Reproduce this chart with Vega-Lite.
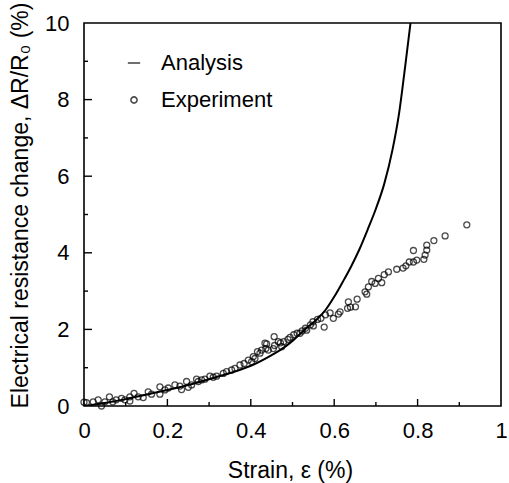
{
  "$schema": "https://vega.github.io/schema/vega-lite/v6.json",
  "width": 417,
  "height": 383,
  "autosize": {"type": "none"},
  "padding": {"left": 84, "top": 23, "right": 8, "bottom": 77},
  "background": "white",
  "config": {
    "view": {"stroke": "black", "strokeWidth": 1.6},
    "font": "Liberation Sans",
    "axis": {
      "domain": false,
      "ticks": false,
      "grid": false,
      "labelColor": "black",
      "labelFontSize": 22,
      "titleColor": "black",
      "titleFontSize": 23,
      "titleFontWeight": "normal",
      "labelFlush": false
    }
  },
  "datasets": {
    "xticks": [
      {"strain": 0.1, "kind": "minor"},
      {"strain": 0.2, "kind": "major"},
      {"strain": 0.3, "kind": "minor"},
      {"strain": 0.4, "kind": "major"},
      {"strain": 0.5, "kind": "minor"},
      {"strain": 0.6, "kind": "major"},
      {"strain": 0.7, "kind": "minor"},
      {"strain": 0.8, "kind": "major"},
      {"strain": 0.9, "kind": "minor"}
    ],
    "yticks": [
      {"dr": 1, "kind": "minor"},
      {"dr": 2, "kind": "major"},
      {"dr": 3, "kind": "minor"},
      {"dr": 4, "kind": "major"},
      {"dr": 5, "kind": "minor"},
      {"dr": 6, "kind": "major"},
      {"dr": 7, "kind": "minor"},
      {"dr": 8, "kind": "major"},
      {"dr": 9, "kind": "minor"}
    ],
    "analysis": [
      {"strain": 0, "dr": 0},
      {"strain": 0.05, "dr": 0.08},
      {"strain": 0.1, "dr": 0.18},
      {"strain": 0.15, "dr": 0.3},
      {"strain": 0.2, "dr": 0.42},
      {"strain": 0.25, "dr": 0.55},
      {"strain": 0.3, "dr": 0.7},
      {"strain": 0.35, "dr": 0.86},
      {"strain": 0.4, "dr": 1.05},
      {"strain": 0.45, "dr": 1.33},
      {"strain": 0.48, "dr": 1.53},
      {"strain": 0.5, "dr": 1.7},
      {"strain": 0.53, "dr": 2.0},
      {"strain": 0.56, "dr": 2.28},
      {"strain": 0.58, "dr": 2.52},
      {"strain": 0.6, "dr": 2.85},
      {"strain": 0.62, "dr": 3.23},
      {"strain": 0.64, "dr": 3.63},
      {"strain": 0.66, "dr": 4.08},
      {"strain": 0.68, "dr": 4.6},
      {"strain": 0.7, "dr": 5.15},
      {"strain": 0.72, "dr": 5.8},
      {"strain": 0.74, "dr": 6.7},
      {"strain": 0.755, "dr": 7.6},
      {"strain": 0.77, "dr": 8.85},
      {"strain": 0.783, "dr": 10}
    ],
    "experiment": [
      {"strain": 0.0, "dr": 0.1, "series": "Experiment"},
      {"strain": 0.006, "dr": 0.09, "series": "Experiment"},
      {"strain": 0.022, "dr": 0.11, "series": "Experiment"},
      {"strain": 0.034, "dr": 0.16, "series": "Experiment"},
      {"strain": 0.042, "dr": 0.0, "series": "Experiment"},
      {"strain": 0.05, "dr": 0.11, "series": "Experiment"},
      {"strain": 0.061, "dr": 0.24, "series": "Experiment"},
      {"strain": 0.069, "dr": 0.11, "series": "Experiment"},
      {"strain": 0.077, "dr": 0.16, "series": "Experiment"},
      {"strain": 0.09, "dr": 0.2, "series": "Experiment"},
      {"strain": 0.098, "dr": 0.16, "series": "Experiment"},
      {"strain": 0.11, "dr": 0.24, "series": "Experiment"},
      {"strain": 0.11, "dr": 0.13, "series": "Experiment"},
      {"strain": 0.12, "dr": 0.33, "series": "Experiment"},
      {"strain": 0.13, "dr": 0.24, "series": "Experiment"},
      {"strain": 0.142, "dr": 0.22, "series": "Experiment"},
      {"strain": 0.154, "dr": 0.37, "series": "Experiment"},
      {"strain": 0.162, "dr": 0.31, "series": "Experiment"},
      {"strain": 0.182, "dr": 0.5, "series": "Experiment"},
      {"strain": 0.182, "dr": 0.31, "series": "Experiment"},
      {"strain": 0.194, "dr": 0.42, "series": "Experiment"},
      {"strain": 0.202, "dr": 0.47, "series": "Experiment"},
      {"strain": 0.218, "dr": 0.55, "series": "Experiment"},
      {"strain": 0.23, "dr": 0.52, "series": "Experiment"},
      {"strain": 0.234, "dr": 0.43, "series": "Experiment"},
      {"strain": 0.246, "dr": 0.64, "series": "Experiment"},
      {"strain": 0.25, "dr": 0.49, "series": "Experiment"},
      {"strain": 0.258, "dr": 0.55, "series": "Experiment"},
      {"strain": 0.27, "dr": 0.7, "series": "Experiment"},
      {"strain": 0.274, "dr": 0.64, "series": "Experiment"},
      {"strain": 0.282, "dr": 0.68, "series": "Experiment"},
      {"strain": 0.29, "dr": 0.7, "series": "Experiment"},
      {"strain": 0.302, "dr": 0.78, "series": "Experiment"},
      {"strain": 0.31, "dr": 0.75, "series": "Experiment"},
      {"strain": 0.318, "dr": 0.78, "series": "Experiment"},
      {"strain": 0.334, "dr": 0.85, "series": "Experiment"},
      {"strain": 0.342, "dr": 0.9, "series": "Experiment"},
      {"strain": 0.354, "dr": 0.94, "series": "Experiment"},
      {"strain": 0.362, "dr": 0.98, "series": "Experiment"},
      {"strain": 0.374, "dr": 1.07, "series": "Experiment"},
      {"strain": 0.384, "dr": 1.11, "series": "Experiment"},
      {"strain": 0.394, "dr": 1.2, "series": "Experiment"},
      {"strain": 0.402, "dr": 1.16, "series": "Experiment"},
      {"strain": 0.406, "dr": 1.29, "series": "Experiment"},
      {"strain": 0.41, "dr": 1.24, "series": "Experiment"},
      {"strain": 0.416, "dr": 1.42, "series": "Experiment"},
      {"strain": 0.422, "dr": 1.38, "series": "Experiment"},
      {"strain": 0.426, "dr": 1.46, "series": "Experiment"},
      {"strain": 0.434, "dr": 1.64, "series": "Experiment"},
      {"strain": 0.436, "dr": 1.5, "series": "Experiment"},
      {"strain": 0.438, "dr": 1.62, "series": "Experiment"},
      {"strain": 0.442, "dr": 1.46, "series": "Experiment"},
      {"strain": 0.456, "dr": 1.81, "series": "Experiment"},
      {"strain": 0.454, "dr": 1.5, "series": "Experiment"},
      {"strain": 0.457, "dr": 1.58, "series": "Experiment"},
      {"strain": 0.466, "dr": 1.68, "series": "Experiment"},
      {"strain": 0.471, "dr": 1.65, "series": "Experiment"},
      {"strain": 0.474, "dr": 1.55, "series": "Experiment"},
      {"strain": 0.479, "dr": 1.68, "series": "Experiment"},
      {"strain": 0.489, "dr": 1.74, "series": "Experiment"},
      {"strain": 0.494, "dr": 1.79, "series": "Experiment"},
      {"strain": 0.503, "dr": 1.86, "series": "Experiment"},
      {"strain": 0.511, "dr": 1.9, "series": "Experiment"},
      {"strain": 0.518, "dr": 1.9, "series": "Experiment"},
      {"strain": 0.523, "dr": 1.96, "series": "Experiment"},
      {"strain": 0.531, "dr": 2.03, "series": "Experiment"},
      {"strain": 0.534, "dr": 1.98, "series": "Experiment"},
      {"strain": 0.543, "dr": 2.12, "series": "Experiment"},
      {"strain": 0.549, "dr": 2.2, "series": "Experiment"},
      {"strain": 0.55, "dr": 2.09, "series": "Experiment"},
      {"strain": 0.56, "dr": 2.26, "series": "Experiment"},
      {"strain": 0.568, "dr": 2.29, "series": "Experiment"},
      {"strain": 0.576, "dr": 2.06, "series": "Experiment"},
      {"strain": 0.579, "dr": 2.38, "series": "Experiment"},
      {"strain": 0.59, "dr": 2.43, "series": "Experiment"},
      {"strain": 0.598, "dr": 2.29, "series": "Experiment"},
      {"strain": 0.61, "dr": 2.4, "series": "Experiment"},
      {"strain": 0.614, "dr": 2.46, "series": "Experiment"},
      {"strain": 0.632, "dr": 2.55, "series": "Experiment"},
      {"strain": 0.634, "dr": 2.72, "series": "Experiment"},
      {"strain": 0.639, "dr": 2.58, "series": "Experiment"},
      {"strain": 0.651, "dr": 2.59, "series": "Experiment"},
      {"strain": 0.655, "dr": 2.79, "series": "Experiment"},
      {"strain": 0.674, "dr": 2.98, "series": "Experiment"},
      {"strain": 0.678, "dr": 2.92, "series": "Experiment"},
      {"strain": 0.682, "dr": 3.11, "series": "Experiment"},
      {"strain": 0.69, "dr": 3.25, "series": "Experiment"},
      {"strain": 0.698, "dr": 3.2, "series": "Experiment"},
      {"strain": 0.706, "dr": 3.33, "series": "Experiment"},
      {"strain": 0.714, "dr": 3.22, "series": "Experiment"},
      {"strain": 0.72, "dr": 3.43, "series": "Experiment"},
      {"strain": 0.73, "dr": 3.5, "series": "Experiment"},
      {"strain": 0.75, "dr": 3.57, "series": "Experiment"},
      {"strain": 0.765, "dr": 3.6, "series": "Experiment"},
      {"strain": 0.772, "dr": 3.66, "series": "Experiment"},
      {"strain": 0.78, "dr": 3.76, "series": "Experiment"},
      {"strain": 0.79, "dr": 3.76, "series": "Experiment"},
      {"strain": 0.79, "dr": 4.06, "series": "Experiment"},
      {"strain": 0.798, "dr": 3.81, "series": "Experiment"},
      {"strain": 0.815, "dr": 3.83, "series": "Experiment"},
      {"strain": 0.818, "dr": 3.94, "series": "Experiment"},
      {"strain": 0.822, "dr": 4.07, "series": "Experiment"},
      {"strain": 0.822, "dr": 4.2, "series": "Experiment"},
      {"strain": 0.839, "dr": 4.32, "series": "Experiment"},
      {"strain": 0.866, "dr": 4.44, "series": "Experiment"},
      {"strain": 0.918, "dr": 4.73, "series": "Experiment"}
    ]
  },
  "layer": [
    {
      "data": {"name": "analysis"},
      "mark": {"type": "line", "color": "black", "strokeWidth": 2, "clip": true, "interpolate": "monotone"},
      "encoding": {
        "x": {
          "field": "strain",
          "type": "quantitative",
          "scale": {"domain": [0, 1], "nice": false, "zero": false},
          "axis": {
            "orient": "bottom",
            "title": "Strain, ε (%)",
            "values": [0, 0.2, 0.4, 0.6, 0.8, 1],
            "format": "~g",
            "labelPadding": 14,
            "labelDx": 2,
            "titleX": 206,
            "titleY": 71,
            "titleAlign": "center",
            "titleBaseline": "alphabetic"
          }
        },
        "y": {
          "field": "dr",
          "type": "quantitative",
          "scale": {"domain": [0, 10], "nice": false},
          "axis": {
            "orient": "left",
            "title": "Electrical resistance change, ΔR/R₀ (%)",
            "values": [0, 2, 4, 6, 8, 10],
            "labelPadding": 15,
            "titleX": -64,
            "titleY": 182,
            "titleAngle": -90,
            "titleAlign": "center",
            "titleBaseline": "middle"
          }
        }
      }
    },
    {
      "data": {"name": "xticks"},
      "transform": [{"filter": "datum.kind === 'major'"}],
      "mark": {"type": "tick", "orient": "vertical", "size": 7, "thickness": 1.4, "color": "black", "opacity": 1, "yOffset": -3.5},
      "encoding": {
        "x": {"field": "strain", "type": "quantitative"},
        "y": {"datum": 0, "type": "quantitative"}
      }
    },
    {
      "data": {"name": "xticks"},
      "transform": [{"filter": "datum.kind === 'minor'"}],
      "mark": {"type": "tick", "orient": "vertical", "size": 4, "thickness": 1.4, "color": "black", "opacity": 1, "yOffset": -2},
      "encoding": {
        "x": {"field": "strain", "type": "quantitative"},
        "y": {"datum": 0, "type": "quantitative"}
      }
    },
    {
      "data": {"name": "yticks"},
      "transform": [{"filter": "datum.kind === 'major'"}],
      "mark": {"type": "tick", "orient": "horizontal", "size": 8, "thickness": 1.4, "color": "black", "opacity": 1, "xOffset": 4},
      "encoding": {
        "y": {"field": "dr", "type": "quantitative"},
        "x": {"datum": 0, "type": "quantitative"}
      }
    },
    {
      "data": {"name": "yticks"},
      "transform": [{"filter": "datum.kind === 'minor'"}],
      "mark": {"type": "tick", "orient": "horizontal", "size": 4, "thickness": 1.4, "color": "black", "opacity": 1, "xOffset": 2},
      "encoding": {
        "y": {"field": "dr", "type": "quantitative"},
        "x": {"datum": 0, "type": "quantitative"}
      }
    },
    {
      "data": {"name": "experiment"},
      "mark": {"type": "point", "filled": false, "color": "black", "size": 36, "strokeWidth": 1.3},
      "encoding": {
        "x": {"field": "strain", "type": "quantitative"},
        "y": {"field": "dr", "type": "quantitative"},
        "shape": {
          "field": "series",
          "type": "nominal",
          "scale": {"domain": ["Analysis", "Experiment"], "range": ["M-2,0H2", "circle"]},
          "legend": {
            "orient": "none",
            "legendX": 39,
            "legendY": 29,
            "title": null,
            "padding": 0,
            "labelFontSize": 22,
            "labelColor": "black",
            "labelOffset": 16,
            "rowPadding": 15,
            "symbolSize": 38,
            "symbolStrokeColor": "black",
            "symbolStrokeWidth": 1.6
          }
        }
      }
    }
  ]
}
